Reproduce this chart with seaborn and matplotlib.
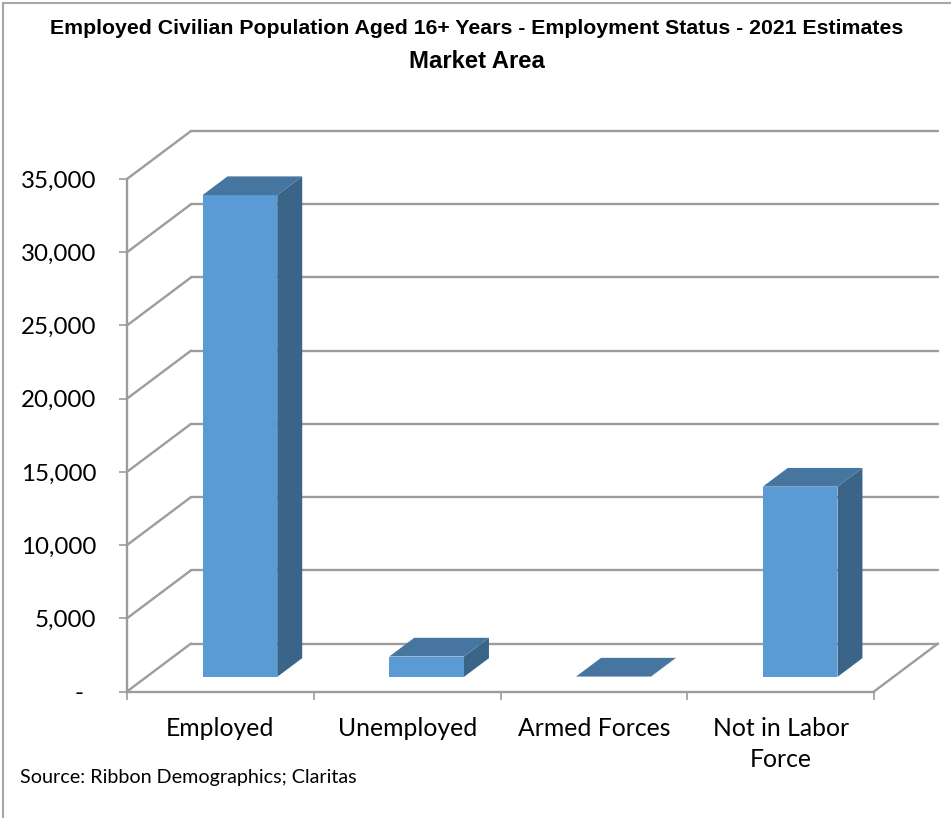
# Employed civilian population chart, Excel style 3D columns

import matplotlib.pyplot as plt
import seaborn as sns
from matplotlib.lines import Line2D
from matplotlib.patches import Polygon

categories = ['Employed', 'Unemployed', 'Armed Forces', 'Not in Labor\nForce']
population = [32900, 1390, 20, 12990]
y_ticks = [0, 5000, 10000, 15000, 20000, 25000, 30000, 35000]
y_labels = ['-  ', '5,000', '10,000', '15,000', '20,000', '25,000', '30,000', '35,000']

FRONT = '#5b9bd5'
TOP = '#46759f'
SIDE = '#3a6488'
GRID = '#9c9c9c'

W, H = 951, 818
# depth of the floor in data units (64 px across, 48 px up)
DEPTH_X = 64 / 186.75
DEPTH_Y = 48 / 512.5 * 35000
BAR_FRONT = 0.305
BAR_BACK = 0.695


def project(x, y, d):
    return x + d * DEPTH_X, y + d * DEPTH_Y


sns.set_style('white')
fig = plt.figure(figsize=(W / 100, H / 100), dpi=100)
ax = fig.add_axes([127 / W, 1 - 691.5 / H, 747 / W, 512.5 / H])
ax.patch.set_visible(False)

# Columns first, then move them back onto the floor
sns.barplot(x=categories, y=population, color=FRONT, saturation=1, width=0.4, ax=ax, zorder=5)
ax.set_xlim(-0.5, 3.5)
ax.set_ylim(0, 35000)

for patch in ax.patches:
    x0, x1 = patch.get_x(), patch.get_x() + patch.get_width()
    v = patch.get_height()
    patch.set_xy(project(x0, 0, BAR_FRONT))
    patch.set_linewidth(0)
    patch.set_clip_on(False)
    top = [project(x0, v, BAR_FRONT), project(x1, v, BAR_FRONT), project(x1, v, BAR_BACK), project(x0, v, BAR_BACK)]
    side = [project(x1, 0, BAR_FRONT), project(x1, 0, BAR_BACK), project(x1, v, BAR_BACK), project(x1, v, BAR_FRONT)]
    ax.add_patch(Polygon(side, facecolor=SIDE, edgecolor='none', zorder=5, clip_on=False))
    ax.add_patch(Polygon(top, facecolor=TOP, edgecolor='none', zorder=6, clip_on=False))

# Walls and floor
line_kws = dict(color=GRID, lw=1.7, clip_on=False, zorder=2, solid_capstyle='round')
for t in y_ticks:
    bx, by = project(-0.5, t, 1)
    ex, ey = project(3.5, t, 1)
    ax.plot([-0.5, bx], [t, by], **line_kws)
    ax.plot([bx, ex], [by, ey], **line_kws)
ex, ey = project(3.5, 0, 1)
ax.plot([3.5, ex], [0, ey], **line_kws)

for name, spine in ax.spines.items():
    spine.set_visible(name in ('left', 'bottom'))
    spine.set_color(GRID)
    spine.set_linewidth(1.7)

ax.set_yticks(y_ticks)
ax.set_yticklabels(y_labels, fontsize=17.4, family='Lato', color='black')
ax.set_xticks(range(4))
ax.set_xticklabels(categories, fontsize=17.8, family='Lato', color='black', linespacing=1.43)
ax.set_xticks([-0.5, 0.5, 1.5, 2.5, 3.5], minor=True)
ax.tick_params(axis='y', which='major', left=True, length=6, width=1.2, color=GRID, pad=16)
ax.tick_params(axis='x', which='major', bottom=False, length=0, pad=18)
ax.tick_params(axis='x', which='minor', bottom=True, length=6, width=1.2, color=GRID)
ax.set_xlabel('')
ax.set_ylabel('')

# Titles and source
fig.text(477 / W, 1 - 29 / H, 'Employed Civilian Population Aged 16+ Years - Employment Status - 2021 Estimates',
         family='Liberation Sans', fontweight='bold', fontsize=15.35, ha='center', va='center', color='black')
fig.text(477 / W, 1 - 62 / H, 'Market Area',
         family='Liberation Sans', fontweight='bold', fontsize=17.2, ha='center', va='center', color='black')
fig.text(20 / W, 1 - 777 / H, 'Source: Ribbon Demographics; Claritas',
         family='Lato', fontsize=14.2, ha='left', va='center', color='black')

# Chart border, only top and left fall inside the picture
fig.add_artist(Line2D([2.5 / W, 2.5 / W], [0, 1 - 3 / H], color='#a6a6a6', lw=1.5))
fig.add_artist(Line2D([2.5 / W, 1], [1 - 3 / H, 1 - 3 / H], color='#a6a6a6', lw=1.5))

fig.savefig('out.png', dpi=100)
